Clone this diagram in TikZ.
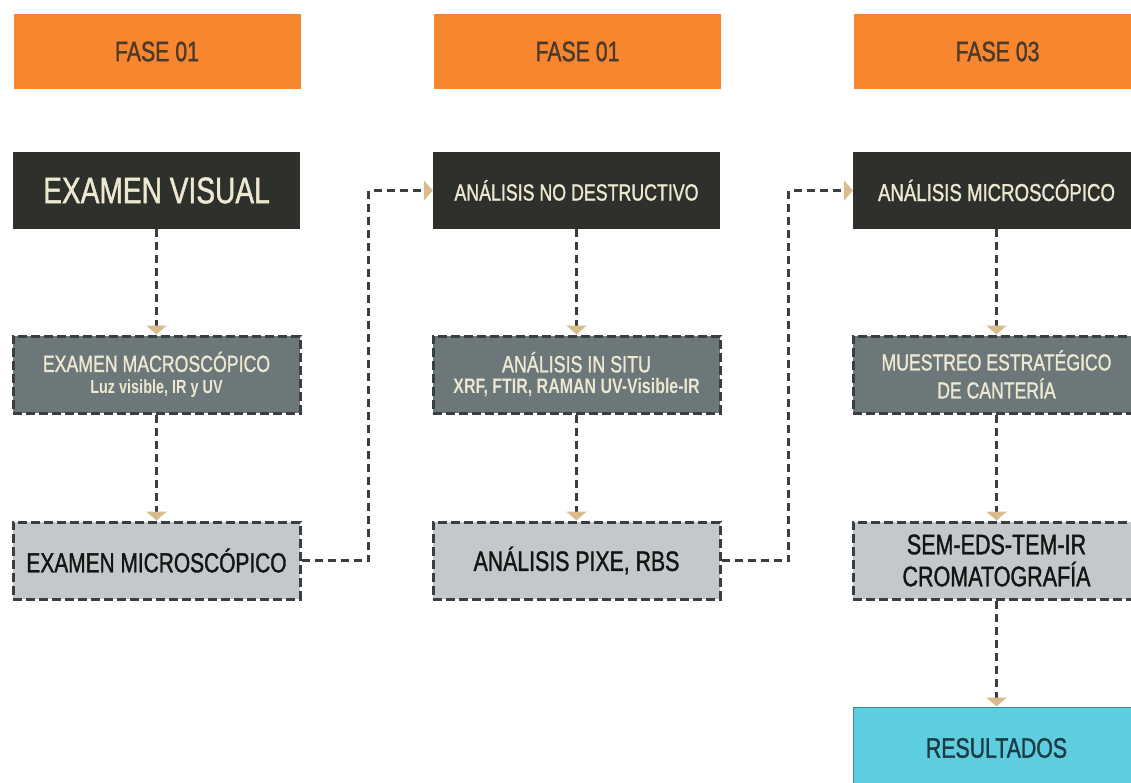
\documentclass[tikz,border=0pt]{standalone}
\usepackage{fontspec}
\setmainfont{Liberation Sans}[FakeStretch=0.76, FakeBold=1.2]
\newfontfamily\capfont{Liberation Sans Bold}[FakeStretch=0.76]
\usetikzlibrary{arrows.meta}
\definecolor{orangeC}{HTML}{F7862E}
\definecolor{phaseText}{HTML}{4A3A2C}
\definecolor{darkC}{HTML}{2E302B}
\definecolor{creamC}{HTML}{EDE8D2}
\definecolor{midC}{HTML}{6B7778}
\definecolor{lightC}{HTML}{C3C8CA}
\definecolor{borderC}{HTML}{3A3E41}
\definecolor{cyanC}{HTML}{5CCEE0}
\definecolor{cyanLine}{HTML}{3C8C98}
\definecolor{resText}{HTML}{1E3B45}
\definecolor{tanC}{HTML}{D8BC8C}
\begin{document}
\begin{tikzpicture}[x=1pt,y=-1pt,
  box/.style={rectangle, minimum width=287pt, minimum height=77pt, inner sep=2pt, align=center},
  phase/.style={box, fill=orangeC, minimum height=75pt, text=phaseText, font=\fontsize{28}{30}\selectfont},
  darkbox/.style={box, fill=darkC, text=creamC},
  midbox/.style={box, fill=midC, text=creamC, draw=borderC, line width=3pt, dash pattern=on 9pt off 4pt},
  lightbox/.style={box, fill=lightC, text=black!92, draw=borderC, line width=3pt, dash pattern=on 9pt off 4pt},
  resbox/.style={box, fill=cyanC, text=resText, draw=cyanLine, line width=1pt, minimum height=82pt},
  conn/.style={draw=borderC, line width=3pt, dash pattern=on 8pt off 5pt,
    -{Triangle[width=20pt,length=9pt,color=tanC]}}
]
\useasboundingbox (0,0) rectangle (1131,782);
\clip (0,0) rectangle (1131,782);

% phase headers
\node[phase] (p1) at (157,51.5) {FASE 01};
\node[phase] (p2) at (577.5,51.5) {FASE 01};
\node[phase] (p3) at (997.5,51.5) {FASE 03};

% column 1
\node[darkbox, font=\fontsize{37}{40}\selectfont] (d1) at (156.5,190.5) {EXAMEN VISUAL};
\node[midbox, font=\capfont\fontsize{19}{21.5}\selectfont] (m1) at (156.5,374.5) {{\rmfamily\fontsize{23.3}{26}\selectfont EXAMEN MACROSCÓPICO}\\Luz visible, IR y UV};
\node[lightbox, font=\fontsize{27.5}{30}\selectfont] (l1) at (156.5,560.5) {EXAMEN MICROSCÓPICO};

% column 2
\node[darkbox, font=\fontsize{23.4}{26}\selectfont] (d2) at (576.5,190.5) {ANÁLISIS NO DESTRUCTIVO};
\node[midbox, font=\capfont\fontsize{21}{21.5}\selectfont] (m2) at (576.5,374.5) {{\rmfamily\fontsize{23.5}{26}\selectfont ANÁLISIS IN SITU}\\XRF, FTIR, RAMAN UV-Visible-IR};
\node[lightbox, font=\fontsize{28}{30}\selectfont] (l2) at (576.5,560.5) {ANÁLISIS PIXE, RBS};

% column 3
\node[darkbox, font=\fontsize{24.5}{26}\selectfont] (d3) at (996.5,190.5) {ANÁLISIS MICROSCÓPICO};
\node[midbox, font=\fontsize{23.2}{28}\selectfont] (m3) at (996.5,374.5) {MUESTREO ESTRATÉGICO\\DE CANTERÍA};
\node[lightbox, font=\fontsize{28.3}{32}\selectfont] (l3) at (996.5,560.5) {SEM-EDS-TEM-IR\\CROMATOGRAFÍA};
\node[resbox, font=\fontsize{28}{30}\selectfont] (r3) at (996.5,748) {RESULTADOS};

% vertical connectors
\draw[conn] (d1.south) -- (m1.north);
\draw[conn] (m1.south) -- (l1.north);
\draw[conn] (d2.south) -- (m2.north);
\draw[conn] (m2.south) -- (l2.north);
\draw[conn] (d3.south) -- (m3.north);
\draw[conn] (m3.south) -- (l3.north);
\draw[conn] (l3.south) -- (r3.north);

% cross connectors
\draw[conn] (l1.east) -- ++(67,0) |- (d2.west);
\draw[conn] (l2.east) -- ++(67,0) |- (d3.west);
\end{tikzpicture}
\end{document}
